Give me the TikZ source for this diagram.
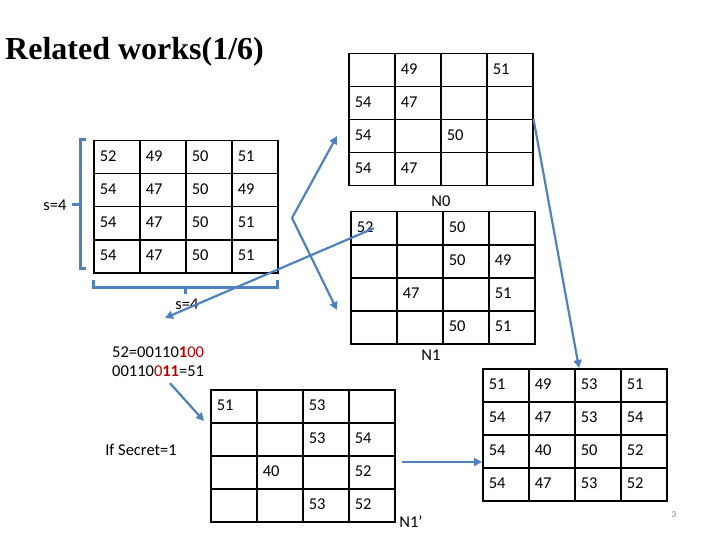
\documentclass[tikz,border=0pt]{standalone}
\usepackage{fontspec}
\setmainfont{Carlito}
\newfontfamily\titlefont{Liberation Serif}
\usetikzlibrary{arrows.meta}
\definecolor{arrowblue}{RGB}{79,129,189}
\definecolor{bitred}{RGB}{192,0,0}
\tikzset{
  cell/.style={draw, line width=1.5pt, anchor=north west, minimum height=33pt,
    text width=34pt, inner xsep=6pt, align=left, font=\fontsize{16.5}{19}\selectfont},
  link/.style={draw=arrowblue, line width=2.2pt, -{Triangle[length=8pt,width=8pt]}},
  brace/.style={draw=arrowblue, line width=3pt},
  lbl/.style={font=\fontsize{16.5}{19}\selectfont}
}
% grid of 4x4 cells: name, x, y, values
\newcommand{\pixgrid}[4]{%
  \foreach \v [count=\i from 0] in {#4} {
    \pgfmathtruncatemacro\r{div(\i,4)}
    \pgfmathtruncatemacro\c{mod(\i,4)}
    \node[cell] (#1-\r-\c) at (#2+46*\c, #3+33*\r) {\strut\v};
  }}
\begin{document}
\begin{tikzpicture}[x=1pt, y=-1pt]
\useasboundingbox (0,0) rectangle (720,540);

\node[anchor=west, inner sep=0, font=\titlefont\bfseries\fontsize{32}{36}\selectfont] (title) at (5,52) {Related works(1/6)};

\pixgrid{A}{93}{140}{52,49,50,51,54,47,50,49,54,47,50,51,54,47,50,51}
\pixgrid{N0}{348}{53}{,49,,51,54,47,,,54,,50,,54,47,,}
\pixgrid{N1}{350}{211}{52,,50,,,,50,49,,47,,51,,,50,51}
\pixgrid{N1p}{210}{389}{51,,53,,,,53,54,,40,,52,,,53,52}
\pixgrid{R}{482}{368}{51,49,53,51,54,47,53,54,54,40,50,52,54,47,53,52}

% brackets
\draw[brace] (86,140) -- (80,140) -- (80,268) -- (86,268);
\draw[brace] (80,205) -- (72,205);
\node[lbl, anchor=east] (s1) at (70,205) {s=4};
\draw[brace] (93,280) -- (93,287) -- (277,287) -- (277,280);
\draw[brace] (185,287) -- (185,294);
\node[lbl] (s2) at (187,304) {s=4};

\node[lbl] (n0) at (441,201) {N0};
\node[lbl] (n1) at (431,355) {N1};
\node[lbl] (n1p) at (411,522) {N1'};

\node[lbl, align=left, anchor=north west, inner sep=0] (bits) at (112,347)
  {52=00110\textcolor{bitred}{\textbf{1}00}\\00110\textcolor{bitred}{0\textbf{11}}=51};
\node[lbl] (secret) at (141,450) {If Secret=1};
\node[font=\fontsize{9}{10}\selectfont, text=gray] (page) at (674,515) {3};

% connectors
\coordinate (fork) at (292,218);
\draw[link] (fork) -- (337,136);
\draw[link] (fork) -- (337,310);
\draw[link] (N1-0-0.center) -- (165,318);
\draw[link] (N0-2-3.north east) -- (579,368);
\draw[link] (bits.south west) ++(58,6) -- (204,421);
\coordinate (gap) at (402,462);
\draw[link] (gap) -- (R-2-0.north west |- gap);
\end{tikzpicture}
\end{document}
